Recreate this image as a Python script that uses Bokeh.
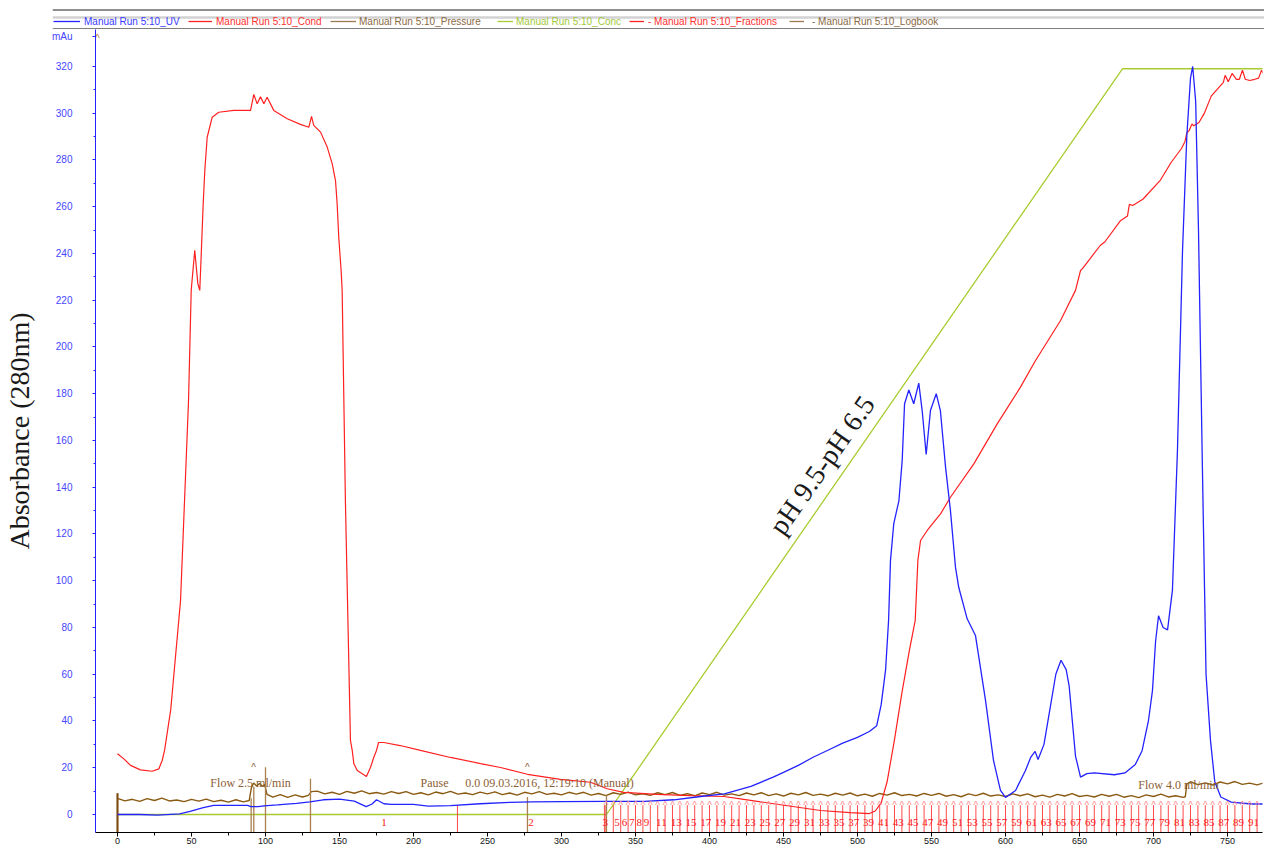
import math
import numpy as np
from bokeh.plotting import figure
from bokeh.layouts import column
from bokeh.models import (ColumnDataSource, Range1d, LinearAxis, SingleIntervalTicker,
                          FixedTicker, Legend, LegendItem, Label, Span)
from bokeh.core.properties import value
from bokeh.embed import file_html
from bokeh.resources import INLINE

# ---------------- data ----------------
uv_x = [0, 15, 27, 42, 49, 58, 65, 88, 90, 95,
        99, 108, 121, 130, 139, 150, 160, 168, 172, 175,
        180, 185, 200, 210, 225, 245, 265, 280, 300, 330,
        356, 376, 394, 410, 428, 443, 450, 460, 470, 480,
        490, 500, 508, 513, 516, 519, 521, 522.3, 524.5, 528,
        530.2, 531.8, 534.7, 538, 541.4, 543.7, 546.4, 549.3, 553.2, 556,
        559.5, 562.8, 566.2, 568.4, 574.1, 579.7, 586.5, 591.9, 596.6, 600,
        606.8, 613.5, 617, 620, 622, 626, 630, 634, 637.5, 641,
        643, 647.3, 650.7, 655, 660, 673.6, 680.7, 687.7, 692.3, 696.6,
        699.3, 701.4, 703.4, 706.5, 709.5, 712.8, 716.2, 719.6, 722.5, 725,
        726.5, 728.5, 730.4, 733, 735.5, 738.5, 741.4, 745.5, 752.5, 766.4,
        776]
uv_y = [0, 0, -0.3, 0.3, 1.3, 2.9, 3.9, 3.9, 3.4, 3.4,
        3.7, 4.1, 4.8, 5.4, 6.3, 6.6, 5.7, 3.4, 4.5, 6.3,
        4.6, 4.3, 4.3, 3.6, 3.8, 4.6, 5.2, 5.4, 5.5, 5.6,
        5.6, 6.3, 7.7, 8.8, 12, 16, 18, 21, 24.5, 27.5,
        30.5, 33, 35.5, 38, 47, 62, 83, 108.7, 124.4, 134.3,
        151.4, 175.7, 181.6, 175.7, 184.5, 172.8, 154, 172.8, 180, 172.8,
        148.6, 130, 105.8, 97.2, 83.7, 76.6, 48.8, 23.1, 10.3, 7.3,
        10.3, 18.8, 24.4, 27, 23.5, 30, 45, 60, 66, 62,
        55, 25, 16, 17.5, 17.8, 17, 17.8, 21.4, 27.3, 40.2,
        53, 74, 85, 80, 79, 96, 156, 241, 290, 315,
        320, 305, 250, 150, 60, 31.7, 14, 7.5, 5.3, 4.5,
        4.5]

cond_x = [0, 4.3, 8.8, 15.5, 23.4, 27.9, 30.2, 31.8, 36, 42.6,
          48, 49.8, 52.2, 54.3, 55.6, 56.5, 57.9, 59, 60.6, 64,
          68.4, 78.6, 89.9, 92.1, 94.4, 96.6, 98.9, 101.1, 105.6, 114.7,
          123.6, 129.3, 131.1, 132.6, 137.2, 141.7, 145.1, 147.3, 148.4, 149.5,
          151.1, 151.8, 154, 157.4, 158.6, 159.7, 162, 168.2, 171, 173.2,
          175, 176.4, 180, 191, 204.7, 225, 245.3, 258.8, 277, 299.3,
          319.6, 330.9, 342, 364.7, 387.2, 409.7, 420.9, 443.4, 475, 495,
          508, 512, 516, 520, 525, 530, 535, 539, 540.8, 542.6,
          547.1, 556.1, 562.8, 578.6, 594.4, 610.1, 620.3, 637.2, 647.3, 650.7,
          652, 664, 667.2, 677.7, 682.4, 683.7, 686, 693, 704.7, 711.9,
          718.9, 721.3, 722.5, 724.1, 726, 727.2, 730.7, 734.3, 739, 747.2,
          748.4, 750.5, 753.1, 756, 758, 760.1, 762, 765, 768.4, 771,
          773, 775, 776]
cond_y = [26, 23.8, 21, 19.1, 18.5, 19.5, 23.1, 27.4, 45, 91.5,
          177, 224.2, 241.3, 227, 224.2, 238.4, 261.2, 275.5, 289.7, 298.3,
          300.4, 301.2, 301.2, 308, 304, 307, 304, 306.8, 301.2, 297.6,
          295.2, 294, 298.6, 294.8, 291.9, 285.5, 278.3, 271.2, 261.4, 247,
          232.7, 224.2, 134, 31.7, 27.4, 21.7, 18.8, 16.3, 20.2, 24.5,
          27.4, 30.8, 30.8, 29.5, 27.4, 24.4, 21.8, 20.1, 17.2, 15,
          13.8, 11, 9.5, 8.6, 8.1, 7.7, 6.7, 4.6, 1.7, 0.8,
          0.4, 1.5, 5, 14, 32, 52, 70, 83, 108.7, 117.2,
          121.5, 128.6, 135.7, 150, 167.1, 182.8, 194.2, 211.3, 224.2, 232.7,
          233.5, 243.4, 245, 254, 256, 261, 260.5, 263.3, 271.4, 278.9,
          284.9, 287.9, 291.6, 292.6, 295.4, 294.6, 296, 299.9, 307.3, 313.2,
          316.2, 313.5, 317, 314.5, 314.5, 318.4, 314.5, 314, 314.5, 315,
          318.4, 316, 316]

conc_x = [0, 330.4, 679, 776]
conc_y = [0, 0, 319, 319]

press_x = [0, 5, 10, 15, 20, 25, 30, 35, 40, 45, 50, 55, 60, 65, 70, 75, 80, 85, 89,
           90.5, 92, 94, 96, 98, 99.5,
           101, 105, 110, 115, 120, 125, 129, 131,
           135, 140, 145, 150, 155, 160, 165, 170, 175, 180, 185, 190,
           195, 200, 205, 210, 215, 220, 225, 230, 235, 240, 245, 250,
           255, 260, 265, 270, 275, 280, 285, 290, 295, 300, 305, 310,
           315, 320, 325, 330, 335, 340, 345, 350, 355, 360, 365, 370,
           375, 380, 385, 390, 395, 400, 405, 410, 415, 420, 425, 430,
           435, 440, 445, 450, 455, 460, 465, 470, 475, 480, 485, 490,
           495, 500, 505, 510, 515, 520, 525, 530, 535, 540, 545, 550,
           555, 560, 565, 570, 575, 580, 585, 590, 595, 600, 605, 610,
           615, 620, 625, 630, 635, 640, 645, 650, 655, 660, 665, 670,
           675, 680, 685, 690, 695, 700, 705, 710, 715, 720,
           721.5, 722.5,
           725, 730, 735, 740, 745, 750, 755, 760, 765, 770, 775]
press_y = [6.9, 5.8, 6.5, 5.6, 6.8, 6.0, 7.0, 5.8, 6.2, 5.5, 6.5, 5.7, 6.6, 5.5, 6.1, 5.3, 6.3, 5.4, 6.0,
           11.5, 13.5, 12.2, 13.3, 12.0, 12.8,
           8.6, 7.4, 8.5, 7.3, 8.4, 7.5, 8.2, 9.8,
           10.0, 8.8, 9.5, 8.6, 9.9, 9.1, 10.1, 8.9, 9.4, 8.7, 9.8, 9.0,
           9.8, 8.6, 9.3, 8.4, 9.6, 8.9, 9.9, 8.7, 9.2, 8.5, 9.6, 8.8,
           9.7, 8.5, 9.2, 8.3, 9.5, 8.8, 9.8, 8.6, 9.1, 8.4, 9.5, 8.7,
           9.5, 8.3, 9.0, 8.1, 9.3, 8.6, 9.6, 8.4, 8.9, 8.2, 9.3, 8.5,
           9.4, 8.2, 8.9, 8.0, 9.2, 8.5, 9.5, 8.3, 8.8, 8.1, 9.2, 8.4,
           9.3, 8.1, 8.8, 7.9, 9.1, 8.4, 9.4, 8.2, 8.7, 8.0, 9.1, 8.3,
           9.2, 8.0, 8.7, 7.8, 9.0, 8.3, 9.3, 8.1, 8.6, 7.9, 9.0, 8.2,
           9.0, 7.8, 8.5, 7.6, 8.8, 8.1, 9.1, 7.9, 8.4, 7.7, 8.8, 8.0,
           8.8, 7.6, 8.3, 7.4, 8.6, 7.9, 8.9, 7.7, 8.2, 7.5, 8.6, 7.8,
           8.6, 7.4, 8.1, 7.2, 8.4, 7.7, 8.7, 7.5, 8.0, 7.3,
           7.6, 13.0,
           14.0, 12.8, 13.5, 12.6, 13.9, 13.1, 14.1, 12.9, 13.4, 12.7, 13.6]

# fraction boundaries (fraction n spans frac_bounds[n-1] .. frac_bounds[n])
frac_bounds = [130.4, 229.7, 329.0,
               330, 335, 340, 345, 350, 355, 360, 365, 370, 375,
               380, 385, 390, 395, 400, 405, 410, 415, 420, 425,
               430, 435, 440, 445, 450, 455, 460, 465, 470, 475,
               480, 485, 490, 495, 500, 505, 510, 515, 520, 525,
               530, 535, 540, 545, 550, 555, 560, 565, 570, 575,
               580, 585, 590, 595, 600, 605, 610, 615, 620, 625,
               630, 635, 640, 645, 650, 655, 660, 665, 670, 675,
               680, 685, 690, 695, 700, 705, 710, 715, 720, 725,
               730, 735, 740, 745, 750, 755, 760, 765, 770, 775]
frac_shown = [1, 2, 3, 5, 6, 7, 8, 9,
              11, 13, 15, 17, 19, 21, 23, 25, 27, 29, 31, 33, 35, 37, 39, 41,
              43, 45, 47, 49, 51, 53, 55, 57, 59, 61, 63, 65, 67, 69, 71, 73,
              75, 77, 79, 81, 83, 85, 87, 89, 91]

# logbook events
log_x = [0, 90.3, 92.1, 100, 130.4, 277, 330.4]
log_top = [9.1, 7.0, 12.0, 20.2, 15.3, 7.5, 8.5]
log_text = ["Flow 2.5 ml/min", "Pause", "0.0 09.03.2016, 12:19:10 (Manual)", "Flow 4.0 ml/min"]
log_text_x = [89.9, 214.2, 291.9, 716.9]
log_text_y = [13.3, 13.3, 13.3, 12.8]
log_caret_x = [92, 277]

# axis ticks
y_major = [0, 20, 40, 60, 80, 100, 120, 140, 160, 180, 200, 220, 240, 260, 280, 300, 320, 333]
y_minor = [10, 30, 50, 70, 90, 110, 130, 150, 170, 190, 210, 230, 250, 270, 290, 310]
y_overrides = {333: "mAu"}

# ---------------- layout ----------------
W = 1264
STRIP_H = 29
MAIN_H = 819
B_L, B_R, B_B = 95, 2, 16
X0, X1 = -14.86, 773.65
Y0, Y1 = -7.70, 335.8

BLUE = "#2323ff"
RED = "#ff2020"
BROWN = "#8a5a12"
LOGBROWN = "#a98050"
GREEN = "#a8cc30"

p = figure(width=W, height=MAIN_H, output_backend="svg", toolbar_location=None,
           title=None, x_range=Range1d(X0, X1), y_range=Range1d(Y0, Y1),
           x_axis_type=None, y_axis_type=None,
           min_border_left=B_L, min_border_right=B_R,
           min_border_top=0, min_border_bottom=B_B)
p.frame_align = False
p.outline_line_color = None
p.background_fill_color = "white"
p.border_fill_color = "white"

xaxis = LinearAxis(ticker=SingleIntervalTicker(interval=50, num_minor_ticks=2))
xaxis.axis_line_color = "black"
xaxis.major_tick_line_color = "black"
xaxis.minor_tick_line_color = "black"
xaxis.major_tick_out = 4
xaxis.major_tick_in = 0
xaxis.minor_tick_out = 3
xaxis.minor_tick_in = 0
xaxis.major_label_standoff = 1
xaxis.major_label_text_font = "Liberation Sans"
xaxis.major_label_text_font_size = "9px"
xaxis.major_label_text_color = "#111111"
p.add_layout(xaxis, "below")

yaxis = LinearAxis(ticker=FixedTicker(ticks=y_major, minor_ticks=y_minor))
yaxis.major_label_overrides = y_overrides
yaxis.axis_line_color = BLUE
yaxis.major_tick_line_color = BLUE
yaxis.minor_tick_line_color = BLUE
yaxis.major_tick_out = 3
yaxis.major_tick_in = 0
yaxis.minor_tick_out = 2
yaxis.minor_tick_in = 0
yaxis.major_label_standoff = 20
yaxis.major_label_text_font = "Liberation Sans"
yaxis.major_label_text_font_size = "10px"
yaxis.major_label_text_color = "#4646ff"
yaxis.axis_label = "Absorbance (280nm)"
yaxis.axis_label_text_font = "Liberation Serif"
yaxis.axis_label_text_font_size = "28px"
yaxis.axis_label_text_font_style = "normal"
yaxis.axis_label_text_color = "#1a1a1a"
yaxis.axis_label_standoff = 14
p.add_layout(yaxis, "left")

# ---------------- glyphs ----------------
p.line(conc_x, conc_y, line_color=GREEN, line_width=1.3)
p.line(press_x, press_y, line_color=BROWN, line_width=1.4)

fr_src = ColumnDataSource(dict(x=frac_bounds, y0=[4.0] * len(frac_bounds),
                               y1=[Y0] * len(frac_bounds)))
p.segment(x0="x", y0="y0", x1="x", y1="y1", source=fr_src,
          line_color="#ff2a2a", line_width=1, line_alpha=0.85)

lg_src = ColumnDataSource(dict(x=log_x, y0=log_top, y1=[Y0] * len(log_x)))
p.segment(x0="x", y0="y0", x1="x", y1="y1", source=lg_src,
          line_color=LOGBROWN, line_width=1.3)
p.segment(x0=[log_x[0]], y0=[log_top[0]], x1=[log_x[0]], y1=[Y0],
          line_color="#7a4a10", line_width=2)

p.line(cond_x, cond_y, line_color=RED, line_width=1.2)
p.line(uv_x, uv_y, line_color=BLUE, line_width=1.3)

# fraction numbers (centred in their fraction)
fl_x = [(frac_bounds[n - 1] + frac_bounds[n]) / 2 for n in frac_shown]
p.text(x=fl_x, y=[-3.4] * len(fl_x), text=[str(n) for n in frac_shown],
       text_font=value("Liberation Serif"), text_font_size="11px",
       text_color="#ff1a1a", text_align="center", text_baseline="middle")
# fraction carets (only those inside the visible range)
caret_b = [b for b in frac_bounds[3:] if b < X1 - 2]
p.text(x=caret_b, y=[3.8] * len(caret_b), text=["^"] * len(caret_b),
       text_font=value("Liberation Sans"), text_font_size="10px",
       text_color="#ff8a8a", text_align="center", text_baseline="middle")

# logbook texts
p.text(x=log_text_x, y=log_text_y, text=log_text,
       text_font=value("Liberation Serif"), text_font_size="12px",
       text_color="#8b5e34", text_align="center", text_baseline="middle")
p.text(x=log_caret_x, y=[20.0] * len(log_caret_x), text=["^"] * len(log_caret_x),
       text_font=value("Liberation Sans"), text_font_size="10px",
       text_color="#8b5e34", text_align="center", text_baseline="middle")
p.text(x=[-13.6], y=[332.0], text=["^"],
       text_font=value("Liberation Sans"), text_font_size="10px",
       text_color="#c07a2a", text_align="center", text_baseline="middle")

p.add_layout(Label(x=476, y=149.5, text="pH 9.5-pH 6.5", angle=math.radians(55),
                   text_font="Liberation Serif", text_font_size="28px",
                   text_color="#1a1a1a", text_align="center", text_baseline="middle"))

# ---------------- legend strip above the chart ----------------
s = figure(width=W, height=STRIP_H, output_backend="svg", toolbar_location=None,
           title=None, x_range=Range1d(52, W), y_range=Range1d(STRIP_H, 0),
           x_axis_type=None, y_axis_type=None,
           min_border_left=52, min_border_right=0, min_border_top=0, min_border_bottom=0)
s.frame_align = False
s.outline_line_color = None
s.background_fill_color = "white"
s.border_fill_color = "white"
s.add_layout(Span(location=9.5, dimension="width", line_color="#8f8f8f", line_width=2))
s.add_layout(Span(location=17, dimension="width", line_color="#d2d2d2", line_width=2.5))
s.add_layout(Span(location=28.5, dimension="width", line_color="black", line_width=1.2))

legend_specs = [
    ("Manual Run 5:10_UV", BLUE, "#3b3bff", 1, 27, 4),
    ("Manual Run 5:10_Cond", RED, "#ff3030", 136, 24, 4),
    ("Manual Run 5:10_Pressure", "#9a7a50", "#8b6b45", 278, 26, 3),
    ("Manual Run 5:10_Conc", GREEN, "#a3c93a", 445, 16, 3),
    ("- Manual Run 5:10_Fractions", RED, "#ff3030", 577, 15, 4),
    ("- Manual Run 5:10_Logbook", "#9a7a50", "#8b6b45", 737, 15, 8),
]
for lab, lcol, tcol, lx, gw, so in legend_specs:
    r = s.line(x=np.array([np.nan]), y=np.array([np.nan]), line_color=lcol, line_width=1.3)
    lg = Legend(items=[LegendItem(label=lab, renderers=[r])],
                location=(lx, 2), orientation="horizontal",
                glyph_width=gw, glyph_height=12, label_height=12, label_width=10,
                label_standoff=so, padding=0, margin=0, spacing=0,
                border_line_color=None, background_fill_alpha=0,
                label_text_font="Liberation Sans", label_text_font_size="10px",
                label_text_color=tcol)
    s.add_layout(lg, "center")

layout = column(s, p, spacing=0)
open("out.html", "w").write(file_html(layout, INLINE))
